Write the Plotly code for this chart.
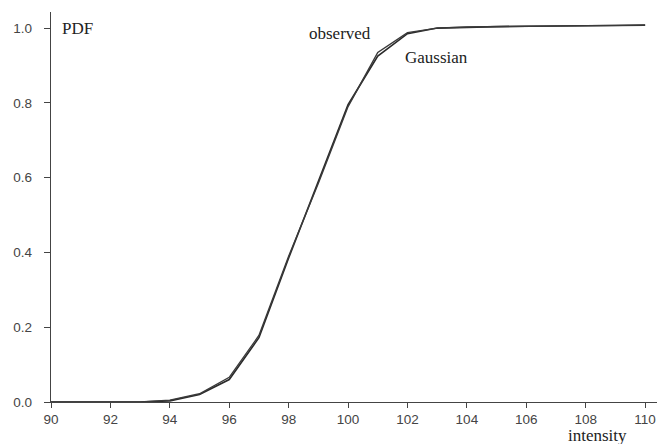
import plotly.graph_objects as go

intensity = list(range(90, 111))
observed = [0, 0, 0, 0, 0.003, 0.02, 0.06, 0.172, 0.385, 0.59, 0.795, 0.925, 0.985,
            1.0, 1.003, 1.004, 1.005, 1.005, 1.006, 1.007, 1.008]
gaussian = [0, 0, 0, 0, 0.005, 0.022, 0.066, 0.178, 0.39, 0.585, 0.79, 0.935, 0.988,
            1.0, 1.003, 1.004, 1.005, 1.005, 1.006, 1.007, 1.008]
x_ticks = list(range(90, 111, 2))
y_ticks = [0.0, 0.2, 0.4, 0.6, 0.8, 1.0]
y_tick_text = ["0.0", "0.2", "0.4", "0.6", "0.8", "1.0"]

fig = go.Figure()
fig.add_trace(go.Scatter(x=intensity, y=observed, mode="lines", name="observed",
                         line=dict(color="#2a2a2a", width=1.6)))
fig.add_trace(go.Scatter(x=intensity, y=gaussian, mode="lines", name="Gaussian",
                         line=dict(color="#3a3a3a", width=1.4)))

serif = "Liberation Serif, DejaVu Serif, serif"
fig.update_layout(
    width=661, height=444,
    margin=dict(l=51, r=4, t=12, b=41.5),
    paper_bgcolor="white", plot_bgcolor="white",
    showlegend=False,
    font=dict(family="Liberation Sans, Arial, sans-serif", size=13.5, color="#444"),
    xaxis=dict(range=[90, 110.4], tickvals=x_ticks, showgrid=False, zeroline=False,
               showline=True, linecolor="#444", linewidth=1.3,
               ticks="outside", ticklen=5, tickcolor="#444", tickwidth=1),
    yaxis=dict(range=[0, 1.043], tickvals=y_ticks, ticktext=y_tick_text,
               showgrid=False, zeroline=False,
               showline=True, linecolor="#444", linewidth=1.3,
               ticks="outside", ticklen=6, tickcolor="#444", tickwidth=1,
               ticklabelstandoff=9),
    annotations=[
        dict(text="PDF", x=90.3, y=1.0, xref="x", yref="y", xanchor="left", yanchor="middle",
             showarrow=False, font=dict(family=serif, size=17, color="#222")),
        dict(text="observed", x=98.62, y=0.986, xref="x", yref="y", xanchor="left", yanchor="middle",
             showarrow=False, font=dict(family=serif, size=17, color="#222")),
        dict(text="Gaussian", x=101.85, y=0.922, xref="x", yref="y", xanchor="left", yanchor="middle",
             showarrow=False, font=dict(family=serif, size=17, color="#222")),
        dict(text="intensity", x=108.4, y=-0.087, xref="x", yref="paper", xanchor="center", yanchor="middle",
             showarrow=False, font=dict(family=serif, size=17, color="#222")),
    ],
)

fig.write_html("out.html", config={"displayModeBar": False},
               post_script="document.body.style.margin='0';document.body.style.overflow='hidden';")
